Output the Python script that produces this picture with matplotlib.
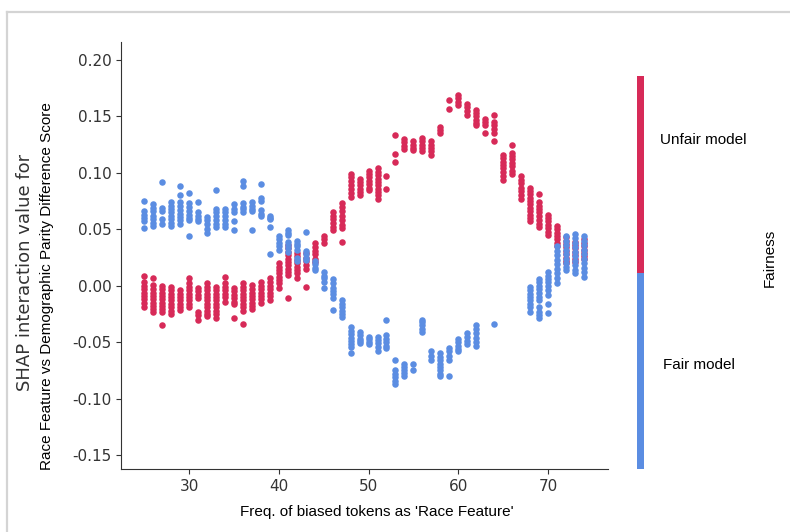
import numpy as np
import matplotlib
matplotlib.use("Agg")
import matplotlib.pyplot as plt
from matplotlib.colors import ListedColormap
from matplotlib.lines import Line2D

# Freq. of biased tokens as 'Race Feature' (one column per value)
freq = [25, 26, 27, 28, 29, 30, 31, 32, 33, 34, 35, 36, 37, 38, 39, 40, 41, 42, 43, 44,
        45, 46, 47, 48, 49, 50, 51, 52, 53, 54, 55, 56, 57, 58, 59, 60, 61, 62, 63, 64,
        65, 66, 67, 68, 69, 70, 71, 72, 73, 74]

# SHAP interaction values, fair models (blue)
fair_vals = [
    [0.075, 0.066, 0.063, 0.060, 0.057, 0.051],
    [0.072, 0.069, 0.066, 0.062, 0.059, 0.056, 0.053],
    [0.092, 0.069, 0.066, 0.059, 0.055],
    [0.074, 0.071, 0.068, 0.065, 0.062, 0.059, 0.056, 0.053],
    [0.088, 0.080, 0.074, 0.071, 0.067, 0.064, 0.061, 0.058, 0.055],
    [0.082, 0.073, 0.070, 0.066, 0.063, 0.060, 0.058, 0.044],
    [0.074, 0.065, 0.062, 0.059, 0.057],
    [0.061, 0.058, 0.055, 0.050, 0.047],
    [0.085, 0.068, 0.065, 0.062, 0.058, 0.055, 0.052],
    [0.068, 0.065, 0.062, 0.058, 0.055, 0.052],
    [0.072, 0.068, 0.065, 0.057, 0.049],
    [0.0925, 0.088, 0.073, 0.070, 0.068, 0.065],
    [0.074, 0.071, 0.068, 0.066, 0.049],
    [0.090, 0.078, 0.075, 0.067, 0.064, 0.062],
    [0.062, 0.060, 0.059, 0.052, 0.028],
    [0.044, 0.041, 0.038, 0.035, 0.032],
    [0.049, 0.047, 0.045, 0.039, 0.036, 0.033, 0.030],
    [0.040, 0.037, 0.035, 0.032, 0.025, 0.022],
    [0.048, 0.031, 0.028, 0.025, 0.023],
    [0.022, 0.019, 0.016, 0.014],
    [0.0125, 0.009, 0.0065, 0.0036, -0.0023],
    [0.006, 0.002, -0.002, -0.005, -0.007, -0.011, -0.0215],
    [-0.0126, -0.016, -0.019, -0.022, -0.025, -0.0274],
    [-0.037, -0.040, -0.043, -0.046, -0.049, -0.052, -0.054, -0.060],
    [-0.041, -0.044, -0.047, -0.049, -0.051],
    [-0.045, -0.047, -0.050, -0.052],
    [-0.045, -0.048, -0.051, -0.054, -0.058],
    [-0.030, -0.044, -0.047, -0.050, -0.053, -0.055],
    [-0.066, -0.075, -0.078, -0.081, -0.084, -0.087],
    [-0.069, -0.072, -0.075, -0.077, -0.080],
    [-0.069, -0.075],
    [-0.030, -0.032, -0.035, -0.038, -0.041],
    [-0.058, -0.062, -0.066],
    [-0.060, -0.063, -0.066, -0.069, -0.072, -0.075, -0.078, -0.080],
    [-0.055, -0.058, -0.062, -0.066, -0.080],
    [-0.047, -0.050, -0.053, -0.056, -0.058],
    [-0.042, -0.045, -0.049, -0.052],
    [-0.035, -0.038, -0.042, -0.046, -0.050, -0.053],
    [],
    [-0.034],
    [],
    [],
    [],
    [-0.001, -0.004, -0.007, -0.010, -0.013, -0.016, -0.019, -0.023],
    [0.006, 0.003, 0.000, -0.003, -0.006, -0.010, -0.013, -0.019, -0.023, -0.026, -0.029],
    [0.012, 0.009, 0.006, 0.003, 0.000, -0.004, -0.008, -0.016, -0.024],
    [0.035, 0.031, 0.027, 0.023, 0.019, 0.015, 0.011, 0.007, 0.002],
    [0.044, 0.040, 0.036, 0.032, 0.028, 0.024, 0.020, 0.017, 0.014],
    [0.046, 0.042, 0.038, 0.034, 0.030, 0.026, 0.022, 0.018, 0.014, 0.011],
    [0.044, 0.040, 0.036, 0.032, 0.028, 0.024, 0.020, 0.016, 0.012, 0.008],
]

# SHAP interaction values, unfair models (red)
unfair_vals = [
    [0.009, 0.003, 0.000, -0.003, -0.006, -0.009, -0.012, -0.015, -0.0186],
    [0.007, 0.0006, -0.003, -0.006, -0.009, -0.012, -0.015, -0.018, -0.021, -0.023],
    [0.000, -0.003, -0.006, -0.009, -0.012, -0.015, -0.018, -0.021, -0.023, -0.035],
    [-0.001, -0.004, -0.007, -0.010, -0.013, -0.016, -0.019, -0.022, -0.025],
    [-0.004, -0.007, -0.010, -0.013, -0.016, -0.019, -0.0215],
    [0.0066, 0.002, -0.001, -0.004, -0.007, -0.010, -0.013, -0.016, -0.0185],
    [-0.0023, -0.005, -0.008, -0.011, -0.023, -0.026, -0.030],
    [0.002, -0.001, -0.004, -0.007, -0.010, -0.013, -0.016, -0.019, -0.022, -0.025, -0.027],
    [-0.001, -0.004, -0.007, -0.010, -0.013, -0.016, -0.019, -0.022, -0.025, -0.029],
    [0.0075, 0.002, -0.001, -0.004, -0.007, -0.010, -0.014],
    [-0.002, -0.005, -0.008, -0.011, -0.014, -0.016, -0.029],
    [0.002, -0.001, -0.004, -0.007, -0.010, -0.013, -0.016, -0.019, -0.022, -0.034],
    [0.0006, -0.003, -0.006, -0.009, -0.012, -0.015, -0.018, -0.021],
    [0.0036, 0.000, -0.003, -0.006, -0.009, -0.012, -0.0156],
    [0.0066, 0.003, 0.000, -0.003, -0.006, -0.009, -0.0126],
    [0.0204, 0.017, 0.014, 0.011, 0.008, 0.005, 0.002, -0.0023],
    [0.036, 0.033, 0.030, 0.027, 0.024, 0.021, 0.018, 0.015, 0.012, 0.0095, -0.011],
    [0.029, 0.026, 0.023, 0.020, 0.017, 0.014, 0.0116, 0.0066],
    [0.0287, 0.025, 0.022, 0.018, 0.0145, -0.0008],
    [0.0376, 0.034, 0.031, 0.028, 0.024, 0.0213],
    [0.044, 0.041, 0.038],
    [0.0656, 0.062, 0.059, 0.056, 0.052, 0.0494],
    [0.0736, 0.070, 0.066, 0.062, 0.058, 0.054, 0.051, 0.039],
    [0.099, 0.096, 0.093, 0.089, 0.086, 0.082, 0.079],
    [0.095, 0.092, 0.089, 0.086, 0.083, 0.080],
    [0.102, 0.099, 0.096, 0.093, 0.090, 0.087, 0.085],
    [0.104, 0.101, 0.098, 0.095, 0.092, 0.089, 0.086, 0.083, 0.080, 0.077],
    [0.097, 0.086],
    [0.1335, 0.117, 0.110],
    [0.130, 0.127, 0.124, 0.121],
    [0.128, 0.125, 0.122, 0.120],
    [0.131, 0.128, 0.125, 0.122, 0.119],
    [0.128, 0.125, 0.122, 0.119, 0.116],
    [0.141, 0.138, 0.135],
    [0.165, 0.157],
    [0.169, 0.166, 0.163, 0.160],
    [0.161, 0.158, 0.155, 0.151],
    [0.156, 0.153, 0.150, 0.147, 0.144, 0.142],
    [0.148, 0.145, 0.142, 0.135],
    [0.151, 0.145, 0.142, 0.139, 0.135, 0.128],
    [0.116, 0.113, 0.110, 0.107, 0.104, 0.101, 0.097, 0.094],
    [0.125, 0.118, 0.115, 0.112, 0.109, 0.106, 0.102, 0.099],
    [0.097, 0.094, 0.091, 0.087, 0.084, 0.080, 0.077],
    [0.087, 0.084, 0.081, 0.078, 0.075, 0.072, 0.069, 0.066, 0.063, 0.060, 0.057],
    [0.081, 0.074, 0.071, 0.068, 0.065, 0.062, 0.058, 0.055, 0.052],
    [0.063, 0.060, 0.057, 0.054, 0.051, 0.048, 0.045],
    [0.053, 0.050, 0.047, 0.044, 0.041, 0.038, 0.035],
    [0.043, 0.040, 0.037, 0.034, 0.031, 0.028, 0.025, 0.022, 0.020],
    [0.039, 0.036, 0.033, 0.030, 0.027, 0.024, 0.021],
    [0.041, 0.038, 0.035, 0.032, 0.029, 0.026, 0.024],
]

fair_color = "#5b8de2"
unfair_color = "#d72a58"
axis_color = "#333333"


def flatten(vals):
    xs, ys = [], []
    for f, col in zip(freq, vals):
        xs += [f] * len(col)
        ys += col
    return np.array(xs), np.array(ys)


fx, fy = flatten(fair_vals)
ux, uy = flatten(unfair_vals)

fig = plt.figure(figsize=(7.9, 5.32), dpi=100)
ax = fig.add_axes([0.1532, 0.1184, 0.6164, 0.8027])

ax.scatter(ux, uy, s=22, color=unfair_color, linewidths=0, zorder=2)
ax.scatter(fx, fy, s=22, color=fair_color, linewidths=0, zorder=2)

ax.set_xlim(22.4, 76.7)
ax.set_ylim(-0.1624, 0.216)
ax.set_xticks([30, 40, 50, 60, 70])
ax.set_yticks([-0.15, -0.10, -0.05, 0.00, 0.05, 0.10, 0.15, 0.20])
ax.yaxis.set_major_formatter(matplotlib.ticker.FormatStrFormatter("%.2f"))
ax.spines["top"].set_visible(False)
ax.spines["right"].set_visible(False)
for s in ["left", "bottom"]:
    ax.spines[s].set_color(axis_color)
ax.tick_params(color=axis_color, labelcolor=axis_color, labelsize=11, length=3.5)

fig.text(377 / 790, 1 - 512 / 532, "Freq. of biased tokens as 'Race Feature'",
         family="Liberation Sans", fontsize=11, color="black", ha="center", va="center")
fig.text(25 / 790, 1 - 272 / 532, "SHAP interaction value for", rotation=90,
         fontsize=13, color=axis_color, ha="center", va="center")
fig.text(47 / 790, 1 - 286 / 532, "Race Feature vs Demographic Parity Difference Score",
         rotation=90, family="Liberation Sans", fontsize=11, color="black",
         ha="center", va="center")

# colour bar for the two classes
cax = fig.add_axes([0.8063, 0.1184, 0.0089, 0.7387])
cmap = ListedColormap([fair_color, unfair_color])
sm = plt.cm.ScalarMappable(cmap=cmap, norm=plt.Normalize(0, 1))
cb = fig.colorbar(sm, cax=cax)
cb.outline.set_visible(False)
cb.set_ticks([])
fig.text(660 / 790, 1 - 140 / 532, "Unfair model", family="Liberation Sans",
         fontsize=11, ha="left", va="center")
fig.text(663 / 790, 1 - 365 / 532, "Fair model", family="Liberation Sans",
         fontsize=11, ha="left", va="center")
fig.text(770 / 790, 1 - 258 / 532, "Fairness", family="Liberation Sans",
         fontsize=11, rotation=90, ha="center", va="center")

# light grey frame of the notebook cell
fig.add_artist(Line2D([7 / 790, 7 / 790], [0, 1 - 12 / 532], color="#d4d4d4", lw=1.6))
fig.add_artist(Line2D([7 / 790, 1], [1 - 12 / 532, 1 - 12 / 532], color="#d4d4d4", lw=1.6))

fig.savefig("out.png", dpi=100)
